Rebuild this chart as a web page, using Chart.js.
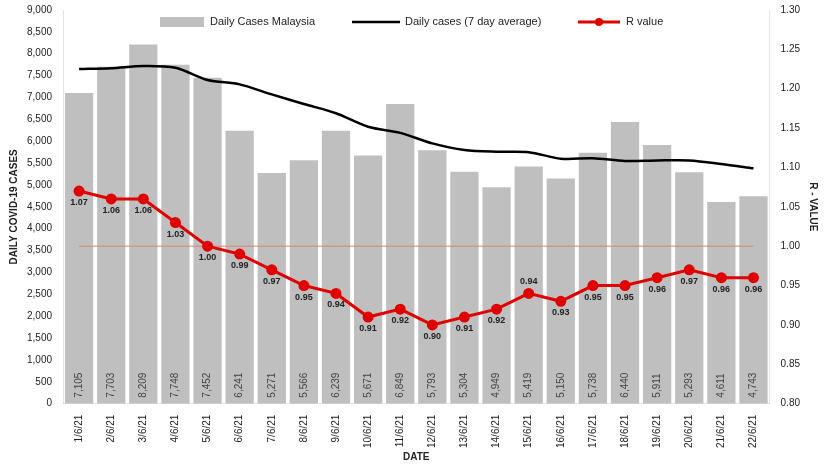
<!DOCTYPE html>
<html><head><meta charset="utf-8">
<script src="https://cdn.jsdelivr.net/npm/chart.js@4/dist/chart.umd.min.js"></script>
<style>html,body{margin:0;background:#fff}#wrap{width:829px;height:467px}</style>
</head><body><div id="wrap"><canvas id="chart"></canvas></div>
<script>
const dates = ['1/6/21','2/6/21','3/6/21','4/6/21','5/6/21','6/6/21','7/6/21','8/6/21','9/6/21','10/6/21','11/6/21','12/6/21','13/6/21','14/6/21','15/6/21','16/6/21','17/6/21','18/6/21','19/6/21','20/6/21','21/6/21','22/6/21'];
const dailyCases = [7105,7703,8209,7748,7452,6241,5271,5566,6239,5671,6849,5793,5304,4949,5419,5150,5738,6440,5911,5293,4611,4743];
const avg7 = [7650,7670,7720,7680,7400,7300,7070,6850,6640,6330,6190,5950,5800,5760,5750,5600,5610,5550,5560,5560,5480,5380];
const rValue = [1.07,1.06,1.06,1.03,1.00,0.99,0.97,0.95,0.94,0.91,0.92,0.90,0.91,0.92,0.94,0.93,0.95,0.95,0.96,0.97,0.96,0.96];
const baseline = dates.map(() => 1.0);
const legendNames = ['Daily Cases Malaysia', 'Daily cases (7 day average)', 'R value'];

const labelPlugin = {
    id: 'labels',
    afterDatasetsDraw(chart) {
        const ctx = chart.ctx;
        ctx.save();
        const bars = chart.getDatasetMeta(0).data;
        ctx.font = '10px "Liberation Sans", Arial';
        ctx.fillStyle = '#444';
        bars.forEach((b, i) => {
            ctx.save();
            ctx.translate(b.x, chart.scales.y.bottom - 6);
            ctx.rotate(-Math.PI / 2);
            ctx.textAlign = 'left';
            ctx.textBaseline = 'middle';
            ctx.fillText(dailyCases[i].toLocaleString('en-US'), 0, 0);
            ctx.restore();
        });
        const pts = chart.getDatasetMeta(3).data;
        ctx.font = 'bold 9px "Liberation Sans", Arial';
        ctx.fillStyle = '#222';
        ctx.textAlign = 'center';
        ctx.textBaseline = 'top';
        pts.forEach((p, i) => {
            const y = i === 14 ? p.y - 16 : p.y + 7;
            ctx.fillText(rValue[i].toFixed(2), p.x, y);
        });

        // legend drawn inside the plot area
        const ly = chart.chartArea.top + 12;
        ctx.font = '11px "Liberation Sans", Arial';
        ctx.textAlign = 'left';
        ctx.textBaseline = 'middle';
        ctx.fillStyle = '#bfbfbf';
        ctx.fillRect(160, ly - 5, 44, 10);
        ctx.fillStyle = '#222';
        ctx.fillText(legendNames[0], 210, ly);
        ctx.strokeStyle = '#000';
        ctx.lineWidth = 2.5;
        ctx.beginPath(); ctx.moveTo(352, ly); ctx.lineTo(400, ly); ctx.stroke();
        ctx.fillText(legendNames[1], 405, ly);
        ctx.strokeStyle = '#e00000';
        ctx.lineWidth = 3;
        ctx.beginPath(); ctx.moveTo(578, ly); ctx.lineTo(620, ly); ctx.stroke();
        ctx.fillStyle = '#e00000';
        ctx.beginPath(); ctx.arc(599, ly, 4, 0, Math.PI * 2); ctx.fill();
        ctx.fillStyle = '#222';
        ctx.fillText(legendNames[2], 626, ly);
        ctx.restore();
    }
};

new Chart(document.getElementById('chart'), {
    type: 'bar',
    data: {
        labels: dates,
        datasets: [
            { label: 'Daily Cases Malaysia', data: dailyCases, backgroundColor: '#bfbfbf', categoryPercentage: 1, barPercentage: 0.88, yAxisID: 'y', order: 4 },
            { type: 'line', label: 'Daily cases (7 day average)', data: avg7, borderColor: '#000', borderWidth: 2.5, pointRadius: 0, tension: 0.3, yAxisID: 'y', order: 1 },
            { type: 'line', label: 'base', data: baseline, borderColor: '#e08070', borderWidth: 1, pointRadius: 0, yAxisID: 'y1', order: 3 },
            { type: 'line', label: 'R value', data: rValue, borderColor: '#e00000', backgroundColor: '#e00000', borderWidth: 3, pointRadius: 4, yAxisID: 'y1', order: 0 }
        ]
    },
    options: {
        responsive: true,
        maintainAspectRatio: false,
        animation: false,
        layout: { padding: { top: 10, right: 6, left: 4, bottom: 4 } },
        plugins: {
            legend: { display: false },
            tooltip: { enabled: false }
        },
        scales: {
            x: {
                offset: true,
                grid: { display: false },
                ticks: { maxRotation: 90, minRotation: 90, font: { size: 10, family: '"Liberation Sans", Arial' }, color: '#222' },
                title: { display: true, text: 'DATE', font: { size: 10, weight: 'bold' }, color: '#222', padding: 0 }
            },
            y: {
                position: 'left', min: 0, max: 9000,
                grid: { display: false },
                ticks: { stepSize: 500, font: { size: 10, family: '"Liberation Sans", Arial' }, color: '#222', callback: v => v.toLocaleString('en-US') },
                title: { display: true, text: 'DAILY COVID-19 CASES', font: { size: 10, weight: 'bold' }, color: '#222' }
            },
            y1: {
                position: 'right', min: 0.8, max: 1.3,
                grid: { display: false },
                ticks: { stepSize: 0.05, font: { size: 10, family: '"Liberation Sans", Arial' }, color: '#222', callback: v => v.toFixed(2) },
                title: { display: true, text: 'R - VALUE', font: { size: 10, weight: 'bold' }, color: '#222' }
            }
        }
    },
    plugins: [labelPlugin]
});
</script></body></html>
